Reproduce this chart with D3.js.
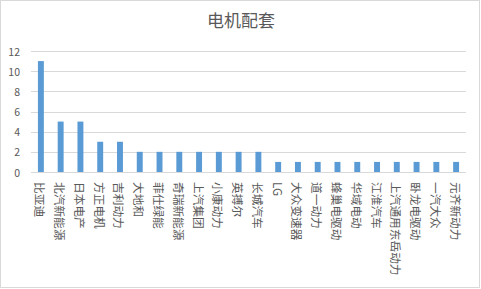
<!DOCTYPE html>
<html>
<head>
<meta charset="utf-8">
<script src="https://cdn.jsdelivr.net/npm/d3@7"></script>
<style>
  body { margin: 0; background: #fff; }
  text { font-family: "Noto Sans CJK SC", "Microsoft YaHei", sans-serif; fill: #595959; }
</style>
</head>
<body>
<div id="vis"></div>
<script>
const categories = ['比亚迪', '北汽新能源', '日本电产', '方正电机', '吉利动力', '大地和', '菲仕绿能',
  '奇瑞新能源', '上汽集团', '小康动力', '英搏尔', '长城汽车', 'LG', '大众变速器', '道一动力',
  '蜂巢电驱动', '华域电动', '江淮汽车', '上汽通用东岳动力', '卧龙电驱动', '一汽大众', '元齐新动力'];
const counts = [11, 5, 5, 3, 3, 2, 2, 2, 2, 2, 2, 2, 1, 1, 1, 1, 1, 1, 1, 1, 1, 1];
const yTicks = [0, 2, 4, 6, 8, 10, 12];

const width = 481, height = 289;
const svg = d3.select('#vis')
  .append('svg')
  .attr('width', width)
  .attr('height', height);

// chart border
svg.append('rect')
  .attr('x', 0.5).attr('y', 0.5)
  .attr('width', width - 2).attr('height', height - 2)
  .attr('fill', '#fff')
  .attr('stroke', '#d9d9d9');

svg.append('text')
  .attr('x', 241)
  .attr('y', 27)
  .attr('text-anchor', 'middle')
  .style('font-size', '17px')
  .text('电机配套');

const x = d3.scaleBand()
  .domain(categories)
  .range([31, 466])
  .paddingInner(0.7)
  .paddingOuter(0.35);

const y = d3.scaleLinear()
  .domain([0, 12])
  .range([172, 51]);

// gridlines
svg.selectAll('.grid')
  .data(yTicks)
  .enter()
  .append('line')
  .attr('x1', 31)
  .attr('x2', 466)
  .attr('y1', d => Math.round(y(d)) + 0.5)
  .attr('y2', d => Math.round(y(d)) + 0.5)
  .attr('stroke', '#d9d9d9');

svg.selectAll('.ylabel')
  .data(yTicks)
  .enter()
  .append('text')
  .attr('x', 20)
  .attr('y', d => y(d))
  .attr('text-anchor', 'end')
  .attr('dominant-baseline', 'central')
  .style('font-size', '10.5px')
  .text(d => d);

svg.selectAll('.bar')
  .data(counts)
  .enter()
  .append('rect')
  .attr('x', (d, i) => x(categories[i]))
  .attr('width', x.bandwidth())
  .attr('y', d => y(d))
  .attr('height', d => y(0) - y(d))
  .attr('fill', '#5b9bd5');

// vertical category labels
svg.selectAll('.xlabel')
  .data(categories)
  .enter()
  .append('text')
  .attr('transform', d => `translate(${x(d) + x.bandwidth() / 2},182) rotate(90)`)
  .attr('dominant-baseline', 'central')
  .style('font-size', '11.7px')
  .text(d => d);
</script>
</body>
</html>
